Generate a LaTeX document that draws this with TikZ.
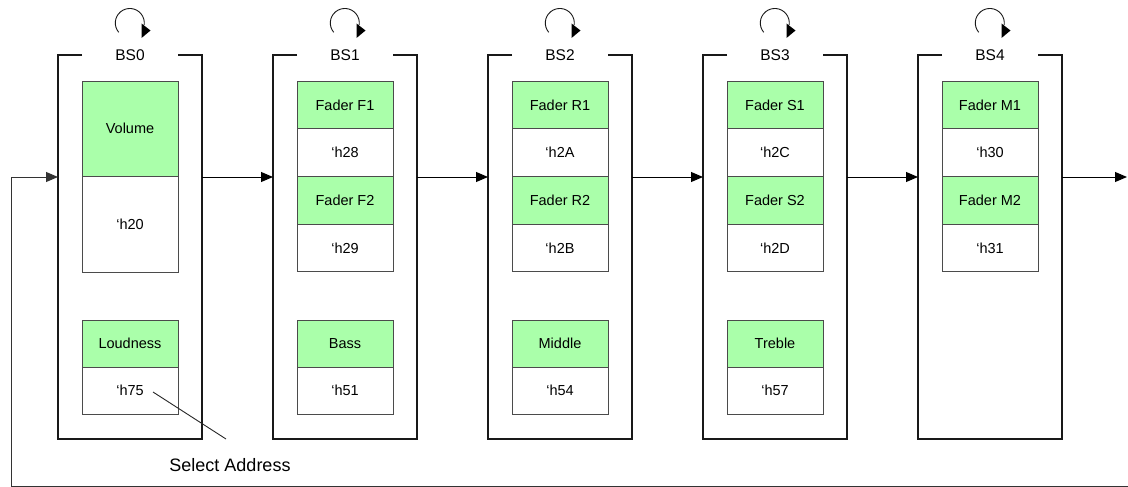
\documentclass[tikz,border=0pt]{standalone}
\usepackage{fontspec}
\setmainfont{Liberation Sans}
\usetikzlibrary{arrows.meta}
\definecolor{cellgreen}{RGB}{170,255,170}
\definecolor{cellline}{RGB}{75,75,75}
\begin{document}
\begin{tikzpicture}[x=1pt,y=-1pt,
  bankbox/.style={minimum width=144pt,minimum height=384pt,inner sep=0pt,outer sep=0pt},
  cell/.style={draw=cellline,line width=0.9pt,minimum width=96pt,inner sep=0pt,outer sep=0pt,anchor=north,
    font=\fontsize{14.5}{16}\selectfont,text=black},
  gcell/.style={cell,fill=cellgreen},
  wcell/.style={cell,fill=white},
  banklabel/.style={font=\fontsize{15.5}{17}\selectfont,text=black},
  frame/.style={line width=1.8pt,black!90},
  flow/.style={line width=1pt,-{Triangle[length=12pt,width=10pt]}},
  loopline/.style={line width=0.9pt,black!90},
]
\useasboundingbox (0,0) rectangle (1128,487);
\coordinate (lane) at (0,177);

% bank frames, labels, loop arrows
\foreach \i in {0,...,4}{
  \node[bankbox] (bs\i) at ({130+215*\i},247) {};
  \draw[frame] ([xshift=24pt]bs\i.north west) -- (bs\i.north west) -- (bs\i.south west)
     -- (bs\i.south east) -- (bs\i.north east) -- ([xshift=-24pt]bs\i.north east);
  \node[banklabel] (lbl\i) at ({130+215*\i},55) {BS\i};
  \draw[loopline] ({130+215*\i-11.3},{23+9.3}) arc[start angle=140,end angle=368,radius=14.5];
  \fill[black] ({130+215*\i+11.5},23.5) -- ({130+215*\i+11.5},38) -- ({130+215*\i+20.5},30.5) -- cycle;
}

% BS0 cells
\node[gcell,minimum height=95pt] (c0a) at (130,81) {Volume};
\node[wcell,minimum height=96pt] (c0b) at (130,176) {‘h20};
\node[gcell,minimum height=47pt] (c0e) at (130,320) {Loudness};
\node[wcell,minimum height=47pt] (c0f) at (130,367) {‘h75};

% BS1..BS3 cells
\foreach \i/\a/\b/\c/\d/\e/\f in {1/Fader F1/‘h28/Fader F2/‘h29/Bass/‘h51,
                                  2/Fader R1/‘h2A/Fader R2/‘h2B/Middle/‘h54,
                                  3/Fader S1/‘h2C/Fader S2/‘h2D/Treble/‘h57}{
  \node[gcell,minimum height=47.7pt] (c\i a) at ({130+215*\i},81) {\a};
  \node[wcell,minimum height=47.7pt] (c\i b) at ({130+215*\i},128.7) {\b};
  \node[gcell,minimum height=47.7pt] (c\i c) at ({130+215*\i},176.3) {\c};
  \node[wcell,minimum height=47.7pt] (c\i d) at ({130+215*\i},224) {\d};
  \node[gcell,minimum height=47pt] (c\i e) at ({130+215*\i},320) {\e};
  \node[wcell,minimum height=47pt] (c\i f) at ({130+215*\i},367) {\f};
}

% BS4 cells
\node[gcell,minimum height=47.7pt] (c4a) at (990,81) {Fader M1};
\node[wcell,minimum height=47.7pt] (c4b) at (990,128.7) {‘h30};
\node[gcell,minimum height=47.7pt] (c4c) at (990,176.3) {Fader M2};
\node[wcell,minimum height=47.7pt] (c4d) at (990,224) {‘h31};

% flow arrows between banks
\foreach \i [evaluate=\i as \j using int(\i+1)] in {0,...,3}{
  \draw[flow] (bs\i.east |- lane) -- (bs\j.west |- lane);
}
\coordinate (outend) at (1127,177);
\draw[flow] (bs4.east |- lane) -- (outend);

% return path
\coordinate (retR) at (1128,486);
\coordinate (retL) at (11,486);
\draw[flow,draw=black!80] (retR) -- (retL) |- (bs0.west |- lane);

% select address label
\node[font=\fontsize{18}{20}\selectfont,text=black] (sel) at (230,465) {Select Address};
\coordinate (leadA) at (153,392);
\coordinate (leadB) at (226,439);
\draw[line width=0.9pt,black!85] (leadA) -- (leadB);
\end{tikzpicture}
\end{document}
